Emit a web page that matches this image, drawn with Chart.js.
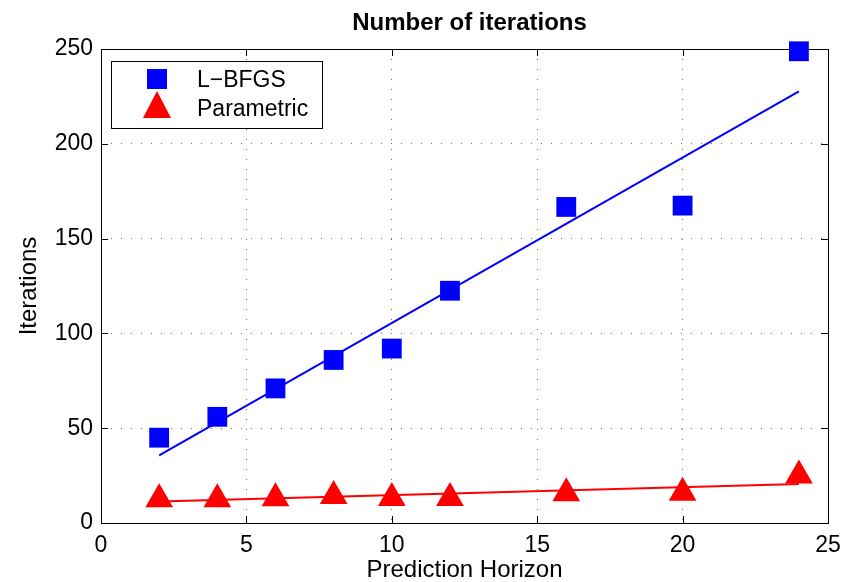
<!DOCTYPE html>
<html>
<head>
<meta charset="utf-8">
<title>Number of iterations</title>
<script src="https://cdn.jsdelivr.net/npm/chart.js@4.4.1/dist/chart.umd.min.js"></script>
<style>
  html, body { margin: 0; padding: 0; background: #fff; }
  #wrap { width: 844px; height: 582px; }
</style>
</head>
<body>
<div id="wrap"><canvas id="iterChart" width="844" height="582"></canvas></div>
<script>
// values
const horizons = [2, 4, 6, 8, 10, 12, 16, 20, 24];
const lbfgsIters = [45, 56, 71, 86, 92, 122.5, 166.7, 167.4, 248.8];
const parametricIters = [12.5, 12.5, 13, 14.3, 13.2, 13.2, 15.7, 16, 25];
// fitted trend lines (end points as drawn)
const fitX = [2, 24];
const lbfgsFit = [35.7, 227.6];
const parametricFit = [11.3, 20.6];
const xTicks = [0, 5, 10, 15, 20, 25];
const yTicks = [0, 50, 100, 150, 200, 250];

const FONT = '"Liberation Sans", Arial, Helvetica, sans-serif';

const toPoints = (xs, ys) => xs.map((x, i) => ({ x: x, y: ys[i] }));

// axes box + inward ticks, under the markers
const boxPlugin = {
    id: 'box',
    beforeDatasetsDraw(chart) {
        const { ctx, chartArea: a, scales } = chart;
        ctx.save();
        ctx.strokeStyle = '#000';
        ctx.lineWidth = 1;
        ctx.beginPath();
        xTicks.forEach(v => {
            const px = Math.round(scales.x.getPixelForValue(v)) + 0.5;
            ctx.moveTo(px, a.bottom); ctx.lineTo(px, a.bottom - 7);
            ctx.moveTo(px, a.top); ctx.lineTo(px, a.top + 7);
        });
        yTicks.forEach(v => {
            const py = Math.round(scales.y.getPixelForValue(v)) + 0.5;
            ctx.moveTo(a.left, py); ctx.lineTo(a.left + 7, py);
            ctx.moveTo(a.right, py); ctx.lineTo(a.right - 7, py);
        });
        ctx.stroke();
        ctx.strokeRect(Math.round(a.left) + 0.5, Math.round(a.top) + 0.5,
            Math.round(a.right - a.left), Math.round(a.bottom - a.top));
        ctx.restore();
    }
};

// title over the plot area and legend box inside it
const overlayPlugin = {
    id: 'overlay',
    afterDraw(chart) {
        const { ctx, chartArea: a } = chart;
        ctx.save();
        ctx.fillStyle = '#000';
        ctx.font = 'bold 24px ' + FONT;
        ctx.textAlign = 'center';
        ctx.textBaseline = 'alphabetic';
        ctx.fillText('Number of iterations', (a.left + a.right) / 2 + 5, 30);

        const lx = a.left + 10, ly = a.top + 12, lw = 211, lh = 67;
        ctx.fillStyle = '#fff';
        ctx.fillRect(lx, ly, lw, lh);
        ctx.strokeStyle = '#000';
        ctx.lineWidth = 1;
        ctx.strokeRect(Math.round(lx) + 0.5, Math.round(ly) + 0.5, lw, lh);

        const mx = lx + 46;
        ctx.fillStyle = '#0000ff';
        ctx.fillRect(mx - 10, ly + 8, 20, 20);
        ctx.fillStyle = '#ff0000';
        ctx.beginPath();
        ctx.moveTo(mx, ly + 30);
        ctx.lineTo(mx + 14, ly + 57);
        ctx.lineTo(mx - 14, ly + 57);
        ctx.closePath();
        ctx.fill();

        ctx.fillStyle = '#000';
        ctx.font = '23px ' + FONT;
        ctx.textAlign = 'left';
        ctx.fillText('L\u2212BFGS', lx + 86, ly + 26);
        ctx.fillText('Parametric', lx + 86, ly + 55);
        ctx.restore();
    }
};

const ctx = document.getElementById('iterChart').getContext('2d');
new Chart(ctx, {
    type: 'scatter',
    data: {
        datasets: [
            {
                label: 'L-BFGS fit',
                data: toPoints(fitX, lbfgsFit),
                showLine: true,
                borderColor: '#0000ff',
                borderWidth: 2,
                pointRadius: 0
            },
            {
                label: 'Parametric fit',
                data: toPoints(fitX, parametricFit),
                showLine: true,
                borderColor: '#ff0000',
                borderWidth: 2,
                pointRadius: 0
            },
            {
                label: 'L-BFGS',
                data: toPoints(horizons, lbfgsIters),
                pointStyle: 'rect',
                pointRadius: 14,
                backgroundColor: '#0000ff',
                borderColor: '#0000ff',
                borderWidth: 0,
                clip: false
            },
            {
                label: 'Parametric',
                data: toPoints(horizons, parametricIters),
                pointStyle: 'triangle',
                pointRadius: 16,
                backgroundColor: '#ff0000',
                borderColor: '#ff0000',
                borderWidth: 0,
                clip: false
            }
        ]
    },
    options: {
        responsive: false,
        animation: false,
        events: [],
        layout: { padding: { top: 49, right: 15, left: 0, bottom: 0 } },
        plugins: {
            legend: { display: false },
            title: { display: false },
            tooltip: { enabled: false }
        },
        scales: {
            x: {
                type: 'linear',
                min: 0,
                max: 25,
                afterBuildTicks: s => { s.ticks = xTicks.map(v => ({ value: v })); },
                afterFit: s => { s.height = 59; s.paddingLeft = 0; s.paddingRight = 0; },
                border: { display: false, dash: [1, 9] },
                grid: {
                    color: '#6e6e6e',
                    lineWidth: 1,
                    drawTicks: false
                },
                ticks: {
                    color: '#000',
                    padding: 9,
                    maxRotation: 0,
                    font: { family: FONT, size: 23 }
                },
                title: {
                    display: true,
                    text: 'Prediction Horizon',
                    color: '#000',
                    padding: { top: 0, bottom: 0 },
                    font: { family: FONT, size: 24, lineHeight: 1.0 }
                }
            },
            y: {
                type: 'linear',
                min: 0,
                max: 250,
                afterBuildTicks: s => { s.ticks = yTicks.map(v => ({ value: v })); },
                afterFit: s => { s.width = 101; },
                border: { display: false, dash: [1, 9] },
                grid: {
                    color: '#6e6e6e',
                    lineWidth: 1,
                    drawTicks: false
                },
                ticks: {
                    color: '#000',
                    padding: 8,
                    font: { family: FONT, size: 23 }
                },
                title: {
                    display: true,
                    text: 'Iterations',
                    color: '#000',
                    padding: { top: 15, bottom: 0 },
                    font: { family: FONT, size: 24 }
                }
            }
        }
    },
    plugins: [boxPlugin, overlayPlugin]
});
</script>
</body>
</html>
